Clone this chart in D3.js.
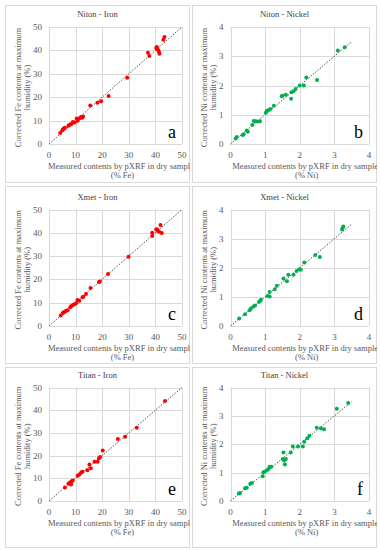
<!DOCTYPE html>
<html>
<head>
<meta charset="utf-8">
<script src="https://cdn.jsdelivr.net/npm/d3@7"></script>
<style>
  html, body { margin: 0; padding: 0; background: #fff; }
  svg { display: block; }
  text { font-family: "Liberation Serif", "DejaVu Serif", serif; }
</style>
</head>
<body>
<svg id="chart" width="380" height="550"></svg>
<script>
// measured (dry) vs corrected (max humidity) contents, one array per panel
const nitonFe = [
  [4.2, 4.7], [5.0, 5.9], [5.3, 6.3], [5.6, 6.6], [6.0, 6.9], [7.3, 7.8], [7.6, 8.1],
  [8.0, 8.3], [8.4, 8.6], [9.0, 9.4], [9.6, 9.2], [10.4, 10.9], [10.8, 9.9], [11.5, 11.0],
  [12.0, 11.5], [12.5, 11.2], [12.8, 11.8], [15.5, 16.4], [18.2, 17.6], [19.6, 18.3],
  [22.4, 20.5], [29.4, 28.3], [37.2, 39.0], [37.7, 37.6], [40.3, 41.0], [40.5, 41.5],
  [40.6, 40.8], [41.0, 40.2], [41.3, 39.5], [41.5, 38.6], [43.0, 44.6], [43.4, 45.7]
];
const nitonNi = [
  [0.15, 0.19], [0.18, 0.24], [0.35, 0.31], [0.38, 0.33], [0.47, 0.46], [0.50, 0.42],
  [0.63, 0.65], [0.67, 0.79], [0.72, 0.78], [0.78, 0.77], [0.85, 0.78], [1.02, 1.07],
  [1.05, 1.14], [1.09, 1.15], [1.15, 1.20], [1.25, 1.31], [1.48, 1.63], [1.50, 1.65],
  [1.60, 1.68], [1.75, 1.55], [1.76, 1.77], [1.82, 1.80], [1.88, 1.88], [2.00, 2.00],
  [2.12, 2.00], [2.19, 2.27], [2.50, 2.19], [3.10, 3.20], [3.30, 3.31]
];
const xmetFe = [
  [4.4, 4.5], [5.2, 5.6], [5.6, 5.9], [6.0, 6.2], [6.5, 6.5], [7.0, 6.8], [8.0, 8.1],
  [8.4, 8.6], [9.0, 9.0], [9.6, 9.3], [10.2, 9.8], [10.7, 11.2], [11.4, 10.8], [12.6, 12.3],
  [12.9, 12.6], [13.9, 13.7], [15.6, 16.3], [18.8, 18.9], [19.1, 19.1], [22.2, 22.3],
  [29.9, 29.7], [38.8, 40.0], [38.8, 38.6], [40.3, 41.4], [40.6, 41.5], [40.9, 40.8],
  [41.4, 40.5], [41.9, 43.3], [42.4, 39.9]
];
const xmetNi = [
  [0.25, 0.26], [0.42, 0.40], [0.55, 0.54], [0.59, 0.60], [0.66, 0.67], [0.71, 0.70],
  [0.82, 0.82], [0.86, 0.87], [0.88, 0.90], [1.07, 1.03], [1.13, 1.01], [1.13, 1.17],
  [1.28, 1.26], [1.34, 1.38], [1.53, 1.63], [1.63, 1.54], [1.67, 1.76], [1.82, 1.76],
  [1.91, 1.89], [1.99, 1.95], [2.03, 1.93], [2.13, 2.18], [2.45, 2.44], [2.58, 2.37],
  [3.22, 3.31], [3.24, 3.37], [3.26, 3.42]
];
const titanFe = [
  [6.0, 5.9], [7.3, 7.6], [7.9, 8.1], [8.3, 7.3], [8.5, 8.7], [8.9, 9.0], [10.8, 11.1],
  [11.4, 11.7], [12.1, 12.6], [12.6, 12.9], [14.4, 13.6], [15.2, 16.1], [15.7, 14.4],
  [17.1, 17.3], [18.3, 17.3], [18.8, 18.8], [19.2, 19.4], [20.2, 22.3], [25.9, 27.3],
  [28.6, 28.3], [33.0, 32.3], [43.6, 44.1]
];
const titanNi = [
  [0.24, 0.26], [0.28, 0.28], [0.42, 0.45], [0.47, 0.47], [0.57, 0.61], [0.62, 0.63],
  [0.93, 0.87], [0.95, 1.01], [0.99, 1.03], [1.05, 1.08], [1.10, 1.13], [1.13, 1.21],
  [1.18, 1.21], [1.51, 1.48], [1.53, 1.71], [1.55, 1.43], [1.57, 1.29], [1.60, 1.48],
  [1.74, 1.71], [1.80, 1.92], [1.95, 1.92], [2.09, 1.92], [2.13, 2.09], [2.22, 2.21],
  [2.28, 2.30], [2.49, 2.58], [2.61, 2.56], [2.70, 2.53], [3.07, 3.25], [3.40, 3.45]
];

const titles = ["Niton - Iron", "Niton - Nickel", "Xmet - Iron", "Xmet - Nickel", "Titan - Iron", "Titan - Nickel"];
const letters = ["a", "b", "c", "d", "e", "f"];
const feTicks = [0, 10, 20, 30, 40, 50];
const niTicks = [0, 1, 2, 3, 4];
const feLine = [0, 50];
const niLine = [0, 3.5];

const panels = [
  { data: nitonFe, el: "Fe" }, { data: nitonNi, el: "Ni" },
  { data: xmetFe, el: "Fe" }, { data: xmetNi, el: "Ni" },
  { data: titanFe, el: "Fe" }, { data: titanNi, el: "Ni" }
];

// layout
const colBox = [[5, 190], [192, 377]];
const rowBox = [[5, 183], [186, 364], [367, 548]];
const plotX = [[49, 182], [230.5, 369]];
const plotY = [[27, 144], [209.5, 326], [387.5, 501]];
const gridColor = "#d9d9d9";
const textColor = "#595959";

const svg = d3.select("#chart");

panels.forEach((p, i) => {
  const col = i % 2, row = Math.floor(i / 2);
  const isFe = p.el === "Fe";
  const ticks = isFe ? feTicks : niTicks;
  const [bx0, bx1] = colBox[col];
  const [by0, by1] = rowBox[row];

  const x = d3.scaleLinear().domain(d3.extent(ticks)).range(plotX[col]);
  const y = d3.scaleLinear().domain(d3.extent(ticks)).range([plotY[row][1], plotY[row][0]]);

  svg.append("clipPath").attr("id", "clip" + i)
    .append("rect").attr("x", bx0).attr("y", by0).attr("width", bx1 - bx0).attr("height", by1 - by0);

  const g = svg.append("g").attr("clip-path", `url(#clip${i})`);

  g.append("rect")
    .attr("x", bx0 + 0.5).attr("y", by0 + 0.5)
    .attr("width", bx1 - bx0 - 1).attr("height", by1 - by0 - 1)
    .attr("fill", "#fff").attr("stroke", gridColor);

  // grid
  g.append("g").selectAll("line").data(ticks).join("line")
    .attr("x1", d => Math.round(x(d)) + 0.5).attr("x2", d => Math.round(x(d)) + 0.5)
    .attr("y1", y.range()[0]).attr("y2", y.range()[1])
    .attr("stroke", gridColor);
  g.append("g").selectAll("line").data(ticks).join("line")
    .attr("y1", d => Math.round(y(d)) + 0.5).attr("y2", d => Math.round(y(d)) + 0.5)
    .attr("x1", x.range()[0]).attr("x2", x.range()[1])
    .attr("stroke", gridColor);

  // tick labels
  g.append("g").selectAll("text").data(ticks).join("text")
    .attr("x", d => x(d)).attr("y", y.range()[0] + 14)
    .attr("text-anchor", "middle").attr("font-size", 9).attr("fill", textColor)
    .text(d => d);
  g.append("g").selectAll("text").data(ticks).join("text")
    .attr("x", x.range()[0] - 7).attr("y", d => y(d) + 3)
    .attr("text-anchor", "end").attr("font-size", 9).attr("fill", textColor)
    .text(d => d);

  // 1:1 line
  const lineExt = isFe ? feLine : niLine;
  g.append("line")
    .attr("x1", x(lineExt[0])).attr("y1", y(lineExt[0]))
    .attr("x2", x(lineExt[1])).attr("y2", y(lineExt[1]))
    .attr("stroke", "#404040").attr("stroke-width", 0.9)
    .attr("stroke-dasharray", "1.5,1.5");

  // points
  g.append("g").selectAll("circle").data(p.data).join("circle")
    .attr("cx", d => x(d[0])).attr("cy", d => y(d[1]))
    .attr("r", 2)
    .attr("fill", isFe ? "#ff0000" : "#00b050");

  // title
  g.append("text")
    .attr("x", (bx0 + bx1) / 2).attr("y", plotY[row][0] - 10)
    .attr("text-anchor", "middle").attr("font-size", 8.5).attr("fill", "#404040")
    .text(titles[i]);

  // x axis title
  const cx = (plotX[col][0] + plotX[col][1]) / 2 + 7;
  g.append("text")
    .attr("x", cx).attr("y", y.range()[0] + 25)
    .attr("text-anchor", "middle").attr("font-size", 8.5).attr("fill", textColor)
    .text("Measured contents by pXRF in dry samples");
  g.append("text")
    .attr("x", cx).attr("y", y.range()[0] + 34)
    .attr("text-anchor", "middle").attr("font-size", 8.5).attr("fill", textColor)
    .text(`(% ${p.el})`);

  // y axis title
  const cy = (plotY[row][0] + plotY[row][1]) / 2 + 2;
  const yl = plotX[col][0] - (isFe ? 28 : 24);
  const yt = g.append("text")
    .attr("transform", `translate(${yl},${cy}) rotate(-90)`)
    .attr("text-anchor", "middle").attr("font-size", 8.5).attr("fill", textColor);
  yt.append("tspan").attr("x", 0).attr("dy", 0).text(`Corrected ${p.el} contents at maximum`);
  yt.append("tspan").attr("x", 0).attr("dy", 9).text("humidity (%)");

  // panel letter
  g.append("text")
    .attr("x", x.range()[1] - 6).attr("y", y.range()[0] - 6)
    .attr("text-anchor", "end").attr("font-size", 18).attr("fill", "#000")
    .text(letters[i]);
});
</script>
</body>
</html>
